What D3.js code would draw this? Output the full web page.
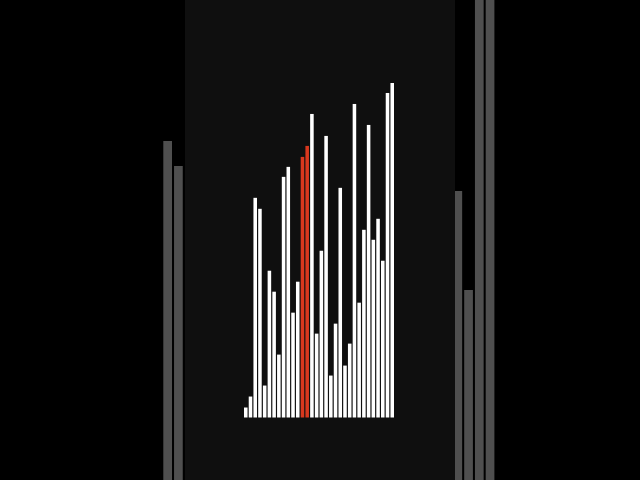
<!DOCTYPE html>
<html><head><meta charset="utf-8">
<script src="https://cdn.jsdelivr.net/npm/d3@7"></script>
<style>html,body{margin:0;padding:0;background:#000;overflow:hidden}</style>
</head><body>
<svg id="c" width="640" height="480"></svg>
<script>
// Background (outer) gray bars: slot index and value
const bgSlots = [0, 1, 27, 28, 29, 30];
const bgValues = [339, 314, 289, 190, 500, 500];
// Foreground bars
const categories = d3.range(1, 33).map(String);
const values = [10, 21, 220, 209, 32, 147, 126, 63, 241, 251, 105, 136, 261, 272, 304, 84,
                167, 282, 42, 94, 230, 52, 74, 314, 115, 188, 293, 178, 199, 157, 325, 335];
const highlighted = ["13", "14"];

const svg = d3.select("#c");
svg.append("rect").attr("width", 640).attr("height", 480).attr("fill", "#000");

// outer chart
const xo = d3.scaleBand().domain(d3.range(31)).range([163.3, 494.4]).paddingInner(0.19).paddingOuter(0);
const yo = d3.scaleLinear().domain([0, 480]).range([480, 0]);
svg.append("g").selectAll("rect").data(bgSlots).join("rect")
  .attr("x", d => xo(d)).attr("width", xo.bandwidth())
  .attr("y", (d, i) => yo(bgValues[i])).attr("height", (d, i) => yo(0) - yo(bgValues[i]))
  .attr("fill", "#4f4f4f");

// panel
svg.append("rect").attr("x", 185).attr("y", 0).attr("width", 270).attr("height", 480).attr("fill", "#0f0f0f");

// inner chart
const x = d3.scaleBand().domain(categories).range([244, 394]).paddingInner(0.25).paddingOuter(0);
const y = d3.scaleLinear().domain([0, 335]).range([417.5, 83]);
svg.append("g").selectAll("rect").data(categories).join("rect")
  .attr("x", d => x(d)).attr("width", x.bandwidth())
  .attr("y", (d, i) => y(values[i])).attr("height", (d, i) => y(0) - y(values[i]))
  .attr("fill", d => highlighted.includes(d) ? "#d9381e" : "#ffffff");
</script>
</body></html>
